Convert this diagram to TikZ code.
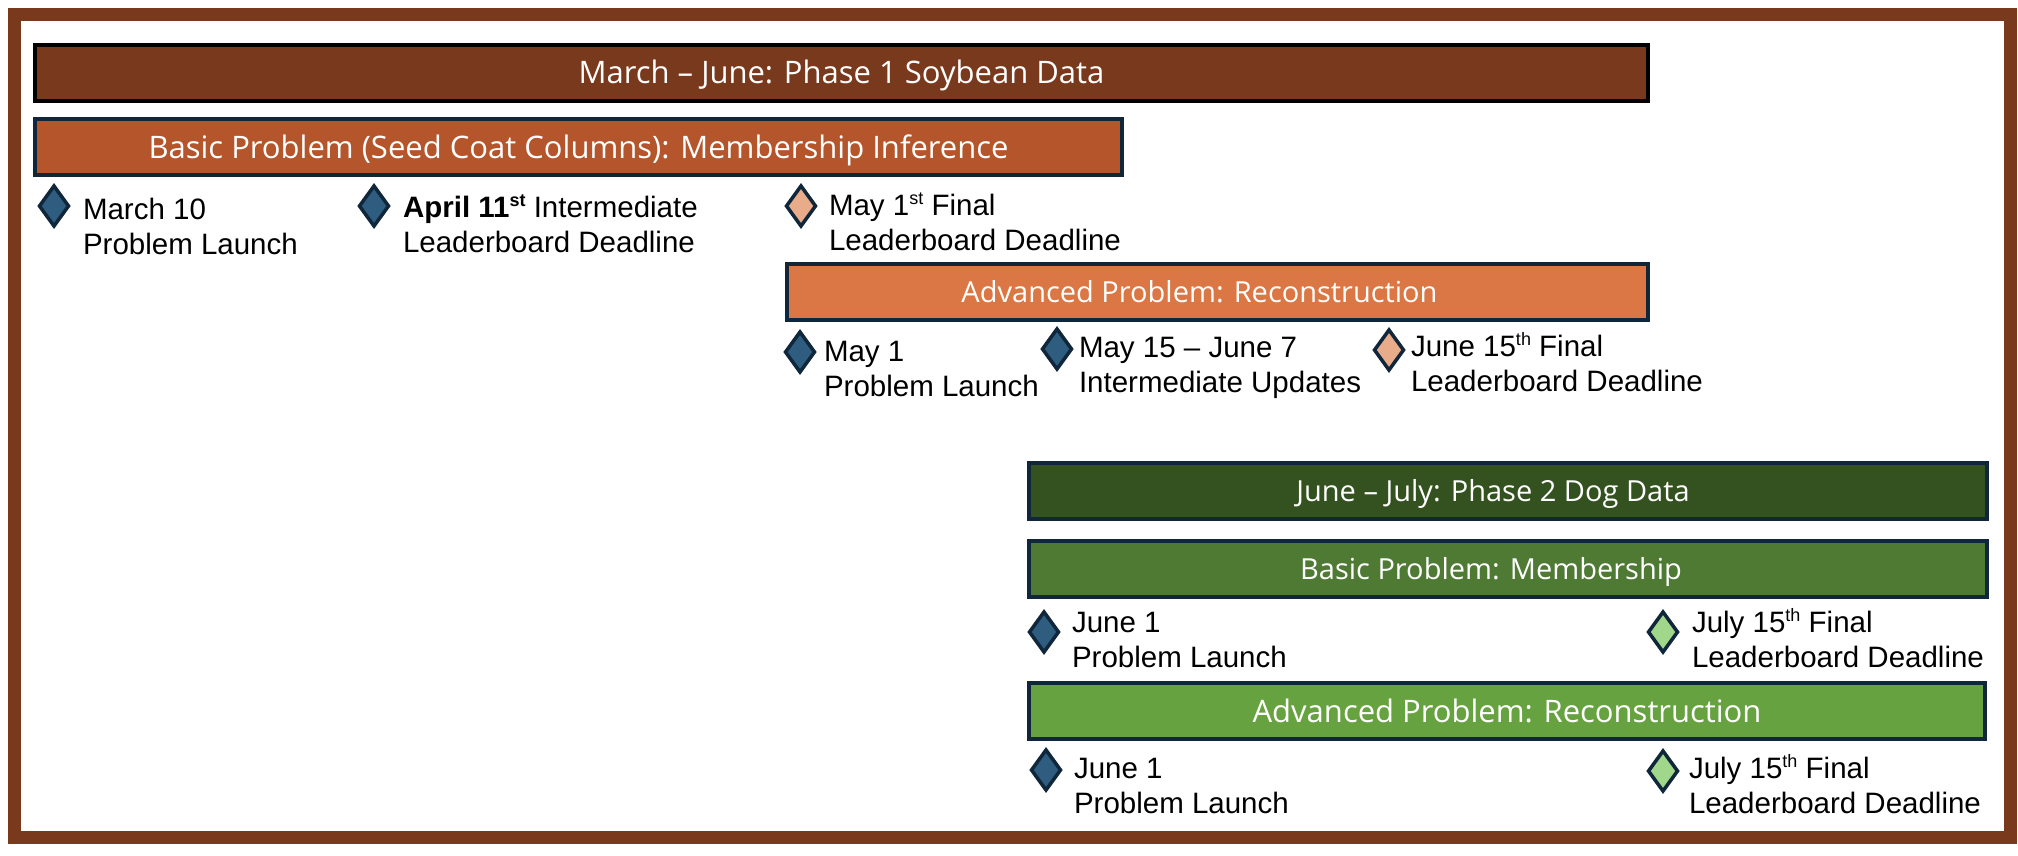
\documentclass[tikz,border=0pt]{standalone}
\usepackage{fontspec}
\setmainfont{Liberation Sans}
\newfontfamily\barfont{Open Sans}
\usetikzlibrary{shapes.geometric}

\definecolor{framebrown}{HTML}{78391C}
\definecolor{soybean}{HTML}{78391C}
\definecolor{rust}{HTML}{B4552B}
\definecolor{tangerine}{HTML}{DA7744}
\definecolor{forest}{HTML}{33521F}
\definecolor{leaf}{HTML}{4E7A33}
\definecolor{grass}{HTML}{67A240}
\definecolor{ink}{HTML}{10263A}
\definecolor{steel}{HTML}{2E5D80}
\definecolor{peach}{HTML}{E8AC8A}
\definecolor{mint}{HTML}{A1D78A}

% two-line milestone caption, baseline on the first line
\newcommand\twolines[2]{\begin{tabular}[t]{@{}l@{}}#1\\#2\end{tabular}}
% small raised ordinal suffix
\newcommand\ord[1]{\raisebox{11pt}{\fontsize{18}{18}\selectfont #1}}

\tikzset{
  bar/.style={draw=ink, line width=4pt, text=white, minimum height=56pt,
    inner sep=0pt, outer sep=0pt, text depth=0pt},
  bigbar/.style={bar, text height=22pt, font=\barfont\fontsize{31}{36}\selectfont},
  smallbar/.style={bar, text height=20.7pt, font=\barfont\fontsize{29}{34}\selectfont},
  gem/.style={diamond, draw=ink, line width=3.5pt, minimum width=29pt,
    minimum height=40pt, inner sep=0pt, outer sep=0pt},
  note/.style={anchor=base west, inner sep=0pt, outer sep=0pt,
    font=\fontsize{29.5}{35.5}\selectfont},
}

\begin{document}
\begin{tikzpicture}[x=1pt, y=-1pt]
  \useasboundingbox (0,0) rectangle (2018,856);
  \fill[white] (0,0) rectangle (2018,856);
  % outer frame
  \draw[framebrown, line width=13pt] (14.5,14.5) rectangle (2010.5,837.5);

  % Phase 1: soybean data
  \node[bigbar, draw=black, fill=soybean, minimum width=1613pt] (phaseone) at (841.5,73)
    {March – June: Phase 1 Soybean Data};
  \node[bigbar, fill=rust, minimum width=1087pt] (soybasic) at (578.5,147)
    {Basic Problem (Seed Coat Columns): Membership Inference};

  \node[gem, fill=steel] (sb1) at (54,206) {};
  \node[note] (sbt1) at (83,219) {\twolines{March 10}{Problem Launch}};
  \node[gem, fill=steel] (sb2) at (374,206) {};
  \node[note] (sbt2) at (403,217) {\twolines{\textbf{April 11\ord{st}} Intermediate}{Leaderboard Deadline}};
  \node[gem, fill=peach] (sb3) at (801,206) {};
  \node[note] (sbt3) at (829,215) {\twolines{May 1\ord{st} Final}{Leaderboard Deadline}};

  \node[smallbar, fill=tangerine, minimum width=861pt] (soyadv) at (1217.5,292)
    {Advanced Problem: Reconstruction\hspace*{36pt}};

  \node[gem, fill=steel] (sa1) at (800,352) {};
  \node[note] (sat1) at (824,361) {\twolines{May 1}{Problem Launch}};
  \node[gem, fill=steel] (sa2) at (1057,349) {};
  \node[note] (sat2) at (1079,357) {\twolines{May 15 – June 7}{Intermediate Updates}};
  \node[gem, fill=peach] (sa3) at (1389,350) {};
  \node[note] (sat3) at (1411,356) {\twolines{June 15\ord{th} Final}{Leaderboard Deadline}};

  % Phase 2: dog data
  \node[smallbar, fill=forest, minimum width=958pt] (phasetwo) at (1508,491)
    {June – July: Phase 2 Dog Data\hspace*{30pt}};
  \node[smallbar, fill=leaf, minimum width=958pt] (dogbasic) at (1508,569)
    {Basic Problem: Membership\hspace*{34pt}};

  \node[gem, fill=steel] (db1) at (1044,632) {};
  \node[note] (dbt1) at (1072,632) {\twolines{June 1}{Problem Launch}};
  \node[gem, fill=mint] (db2) at (1663,632) {};
  \node[note] (dbt2) at (1692,632) {\twolines{July 15\ord{th} Final}{Leaderboard Deadline}};

  \node[bigbar, fill=grass, minimum width=956pt] (dogadv) at (1507,711)
    {Advanced Problem: Reconstruction};

  \node[gem, fill=steel] (da1) at (1046,770) {};
  \node[note] (dat1) at (1074,778) {\twolines{June 1}{Problem Launch}};
  \node[gem, fill=mint] (da2) at (1663,771) {};
  \node[note] (dat2) at (1689,778) {\twolines{July 15\ord{th} Final}{Leaderboard Deadline}};
\end{tikzpicture}
\end{document}
